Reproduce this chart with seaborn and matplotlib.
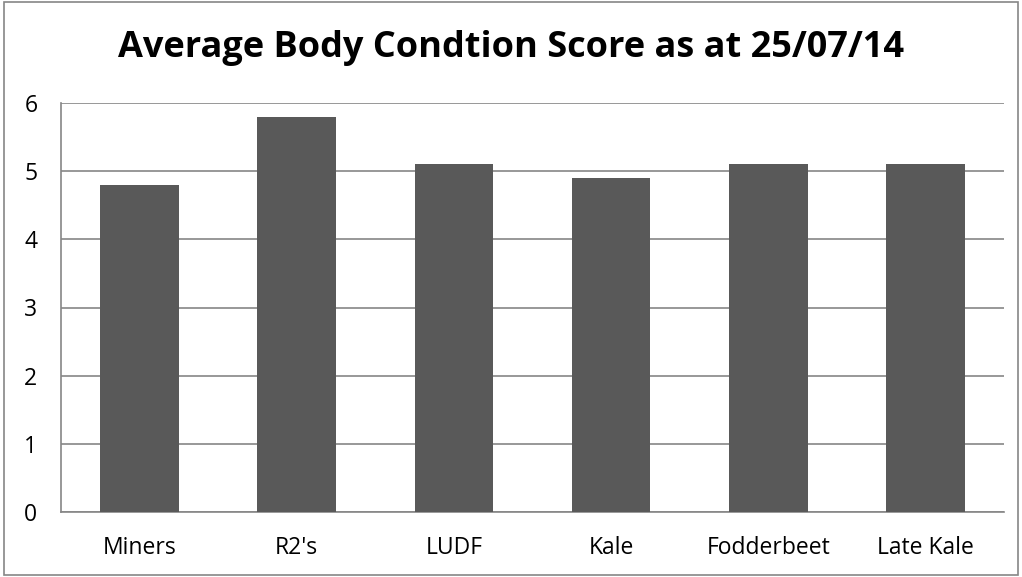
import numpy as np
import pandas as pd
import seaborn as sns
import matplotlib.pyplot as plt
from matplotlib.patches import Rectangle

# data
categories = ["Miners", "R2's", "LUDF", "Kale", "Fodderbeet", "Late Kale"]
scores = [4.8, 5.8, 5.1, 4.9, 5.1, 5.1]
y_ticks = [0, 1, 2, 3, 4, 5, 6]

sns.set_style("white")
plt.rcParams['font.family'] = ['Open Sans', 'DejaVu Sans']

df = pd.DataFrame({"cat": categories, "score": scores})

fig = plt.figure(figsize=(10.22, 5.77), dpi=100)
ax = fig.add_axes([61 / 1022, 1 - 512 / 577, (1004 - 61) / 1022, (512 - 103) / 577])

sns.barplot(data=df, x="cat", y="score", color="#595959", saturation=1,
            width=0.5, linewidth=0, ax=ax, zorder=3)

grid_c = "#868686"
ax.set_ylim(0, 6)
ax.set_xlim(-0.5, len(categories) - 0.5)
ax.set_yticks(y_ticks)
ax.yaxis.grid(True, color=grid_c, linewidth=1.2, zorder=0)
ax.set_axisbelow(True)

# category boundary ticks
ax.set_xticks(np.arange(-0.5, len(categories), 1.0), minor=True)
ax.tick_params(axis="x", which="major", length=0, labelsize=16.5, pad=17, colors="black")
ax.tick_params(axis="x", which="minor", length=6, width=1.2, color=grid_c, direction="out")
ax.tick_params(axis="y", length=6, width=1.2, color=grid_c, direction="out",
               labelsize=16.5, pad=11, colors="black")
ax.tick_params(axis="y", color=grid_c)
ax.set_xlabel("")
ax.set_ylabel("")

for s in ["top", "right"]:
    ax.spines[s].set_visible(False)
for s in ["left", "bottom"]:
    ax.spines[s].set_color(grid_c)
    ax.spines[s].set_linewidth(1.2)

fig.text(0.5, 1 - 57 / 577, "Average Body Condtion Score as at 25/07/14",
         ha="center", va="baseline", fontsize=26, fontweight="bold", color="black")

# outer chart border
fig.patches.append(Rectangle((4 / 1022, 2 / 577), 1 - 8 / 1022, 1 - 4 / 577,
                             transform=fig.transFigure, fill=False,
                             edgecolor=grid_c, linewidth=1.2))

fig.savefig("out.png", dpi=100)
